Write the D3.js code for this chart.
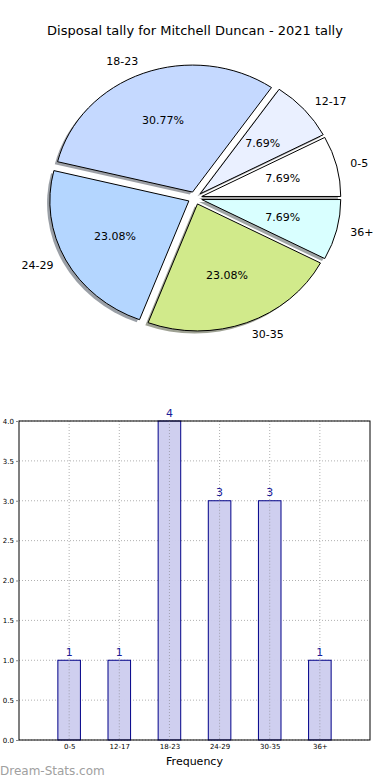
<!DOCTYPE html>
<html>
<head>
<meta charset="utf-8">
<script src="https://cdn.jsdelivr.net/npm/d3@7"></script>
<style>
  body { margin: 0; background: #fff; }
  svg { display: block; font-family: "DejaVu Sans", sans-serif; }
</style>
</head>
<body>
<div id="container"></div>
<script>
// data
const categories = ["0-5", "12-17", "18-23", "24-29", "30-35", "36+"];
const counts = [1, 1, 4, 3, 3, 1];
const sliceColors = ["#ffffff", "#eaf0ff", "#c5d9ff", "#b4d6ff", "#d1ea8b", "#d9ffff"];
const yTicks = [0, 0.5, 1, 1.5, 2, 2.5, 3, 3.5, 4];

const widthSVG = 390, heightSVG = 780;

const svg = d3.select("#container")
  .append("svg")
  .attr("width", widthSVG)
  .attr("height", heightSVG);

// ---------- pie (matplotlib style: starts at 3 o'clock, counter clockwise) ----------
const pieBox = { cx: 195, cy: 198, rx: 139, ry: 127 },
  explode = 0.05;

svg.append("text")
  .attr("x", 195)
  .attr("y", 30)
  .attr("text-anchor", "middle")
  .attr("dominant-baseline", "central")
  .style("font-size", "13px")
  .text("Disposal tally for Mitchell Duncan - 2021 tally");

const total = d3.sum(counts);
const pie = d3.pie()
  .sort(null)
  .startAngle(Math.PI / 2)
  .endAngle(Math.PI / 2 - 2 * Math.PI);

const arcs = pie(counts);
const arc = d3.arc().innerRadius(0).outerRadius(1);

// unit vector for the middle of a slice (d3 angles: clockwise from 12 o'clock)
const dir = d => {
  const a = (d.startAngle + d.endAngle) / 2;
  return [Math.sin(a), -Math.cos(a)];
};

const pieG = svg.append("g")
  .attr("transform", `translate(${pieBox.cx},${pieBox.cy})`);

// shadows first, then wedges on top
pieG.selectAll("path.shadow")
  .data(arcs)
  .enter()
  .append("path")
  .attr("class", "shadow")
  .attr("d", arc)
  .attr("transform", d => {
    const [ux, uy] = dir(d);
    return `translate(${(ux * explode - 0.02) * pieBox.rx},${(uy * explode + 0.02) * pieBox.ry}) scale(${pieBox.rx},${pieBox.ry})`;
  })
  .attr("fill", (d, i) => {
    const c = d3.rgb(sliceColors[i]);
    return d3.rgb(c.r * 0.3, c.g * 0.3, c.b * 0.3);
  })
  .attr("fill-opacity", 0.5)
  .attr("stroke", "none");

pieG.selectAll("path.wedge")
  .data(arcs)
  .enter()
  .append("path")
  .attr("class", "wedge")
  .attr("d", arc)
  .attr("transform", d => {
    const [ux, uy] = dir(d);
    return `translate(${ux * explode * pieBox.rx},${uy * explode * pieBox.ry}) scale(${pieBox.rx},${pieBox.ry})`;
  })
  .attr("fill", (d, i) => sliceColors[i])
  .attr("stroke", "#000")
  .attr("stroke-width", 1)
  .attr("vector-effect", "non-scaling-stroke");

// outer labels at 1.1 radius
pieG.selectAll("text.label")
  .data(arcs)
  .enter()
  .append("text")
  .attr("class", "label")
  .attr("x", d => dir(d)[0] * (1.1 + explode) * pieBox.rx)
  .attr("y", d => dir(d)[1] * (1.1 + explode) * pieBox.ry)
  .attr("text-anchor", d => dir(d)[0] < 0 ? "end" : "start")
  .attr("dominant-baseline", "central")
  .style("font-size", "11px")
  .text((d, i) => categories[i]);

// percentages at 0.6 radius
pieG.selectAll("text.pct")
  .data(arcs)
  .enter()
  .append("text")
  .attr("class", "pct")
  .attr("x", d => dir(d)[0] * (0.6 + explode) * pieBox.rx)
  .attr("y", d => dir(d)[1] * (0.6 + explode) * pieBox.ry)
  .attr("text-anchor", "middle")
  .attr("dominant-baseline", "central")
  .style("font-size", "11px")
  .text(d => `${(d.value / total * 100).toFixed(2)}%`);

// ---------- bar chart ----------
const plot = { left: 19, right: 370, top: 421, bottom: 740 };

const x = d3.scaleLinear().domain([-1, 6]).range([plot.left, plot.right]);
const y = d3.scaleLinear().domain([0, 4]).range([plot.bottom, plot.top]);
const barWidth = 0.45;

const bars = svg.append("g").attr("id", "bars");

// dotted grid
bars.selectAll("line.hgrid")
  .data(yTicks)
  .enter()
  .append("line")
  .attr("x1", plot.left).attr("x2", plot.right)
  .attr("y1", d => y(d)).attr("y2", d => y(d))
  .attr("stroke", "#b0b0b0")
  .attr("stroke-dasharray", "1,2");

bars.selectAll("line.vgrid")
  .data(categories)
  .enter()
  .append("line")
  .attr("x1", (d, i) => x(i)).attr("x2", (d, i) => x(i))
  .attr("y1", plot.top).attr("y2", plot.bottom)
  .attr("stroke", "#b0b0b0")
  .attr("stroke-dasharray", "1,2");

bars.selectAll("rect.bar")
  .data(counts)
  .enter()
  .append("rect")
  .attr("class", "bar")
  .attr("x", (d, i) => x(i - barWidth / 2))
  .attr("width", x(barWidth) - x(0))
  .attr("y", d => y(d))
  .attr("height", d => y(0) - y(d))
  .attr("fill", "#ccccee")
  .attr("fill-opacity", 0.95)
  .attr("stroke", "#000088")
  .attr("stroke-width", 1);

// grid shows through the bars
bars.selectAll("line.vgrid2")
  .data(categories)
  .enter()
  .append("line")
  .attr("x1", (d, i) => x(i)).attr("x2", (d, i) => x(i))
  .attr("y1", (d, i) => y(counts[i])).attr("y2", plot.bottom)
  .attr("stroke", "#a0a0b0")
  .attr("stroke-dasharray", "1,2");

bars.selectAll("text.value")
  .data(counts)
  .enter()
  .append("text")
  .attr("x", (d, i) => x(i))
  .attr("y", d => y(d) - 8)
  .attr("text-anchor", "middle")
  .attr("dominant-baseline", "central")
  .attr("fill", "#1c1c99")
  .style("font-size", "11px")
  .text(d => d);

// frame
bars.append("rect")
  .attr("x", plot.left).attr("y", plot.top)
  .attr("width", plot.right - plot.left)
  .attr("height", plot.bottom - plot.top)
  .attr("fill", "none")
  .attr("stroke", "#000")
  .attr("stroke-width", 1);

// y axis labels
const yAxis = d3.axisLeft(y).tickValues(yTicks).tickFormat(d3.format(".1f")).tickSize(3).tickPadding(2);
bars.append("g")
  .attr("transform", `translate(${plot.left},0)`)
  .call(yAxis)
  .call(g => g.select(".domain").remove())
  .call(g => g.selectAll("line").attr("stroke", "#888"))
  .call(g => g.selectAll("text").style("font-size", "7px").style("font-family", "DejaVu Sans").attr("fill", "#000"));

// x axis labels
const xAxis = d3.axisBottom(x).tickValues(d3.range(categories.length)).tickFormat(i => categories[i]).tickSize(0).tickPadding(4);
bars.append("g")
  .attr("transform", `translate(0,${plot.bottom})`)
  .call(xAxis)
  .call(g => g.select(".domain").remove())
  .call(g => g.selectAll("text").style("font-size", "7px").style("font-family", "DejaVu Sans").attr("fill", "#000"));

svg.append("text")
  .attr("x", (plot.left + plot.right) / 2)
  .attr("y", 761)
  .attr("text-anchor", "middle")
  .attr("dominant-baseline", "central")
  .style("font-size", "11px")
  .text("Frequency");

// watermark
svg.append("text")
  .attr("x", 0)
  .attr("y", 771)
  .attr("dominant-baseline", "central")
  .attr("fill", "#a0a0a0")
  .style("font-size", "12px")
  .text("Dream-Stats.com");
</script>
</body>
</html>
